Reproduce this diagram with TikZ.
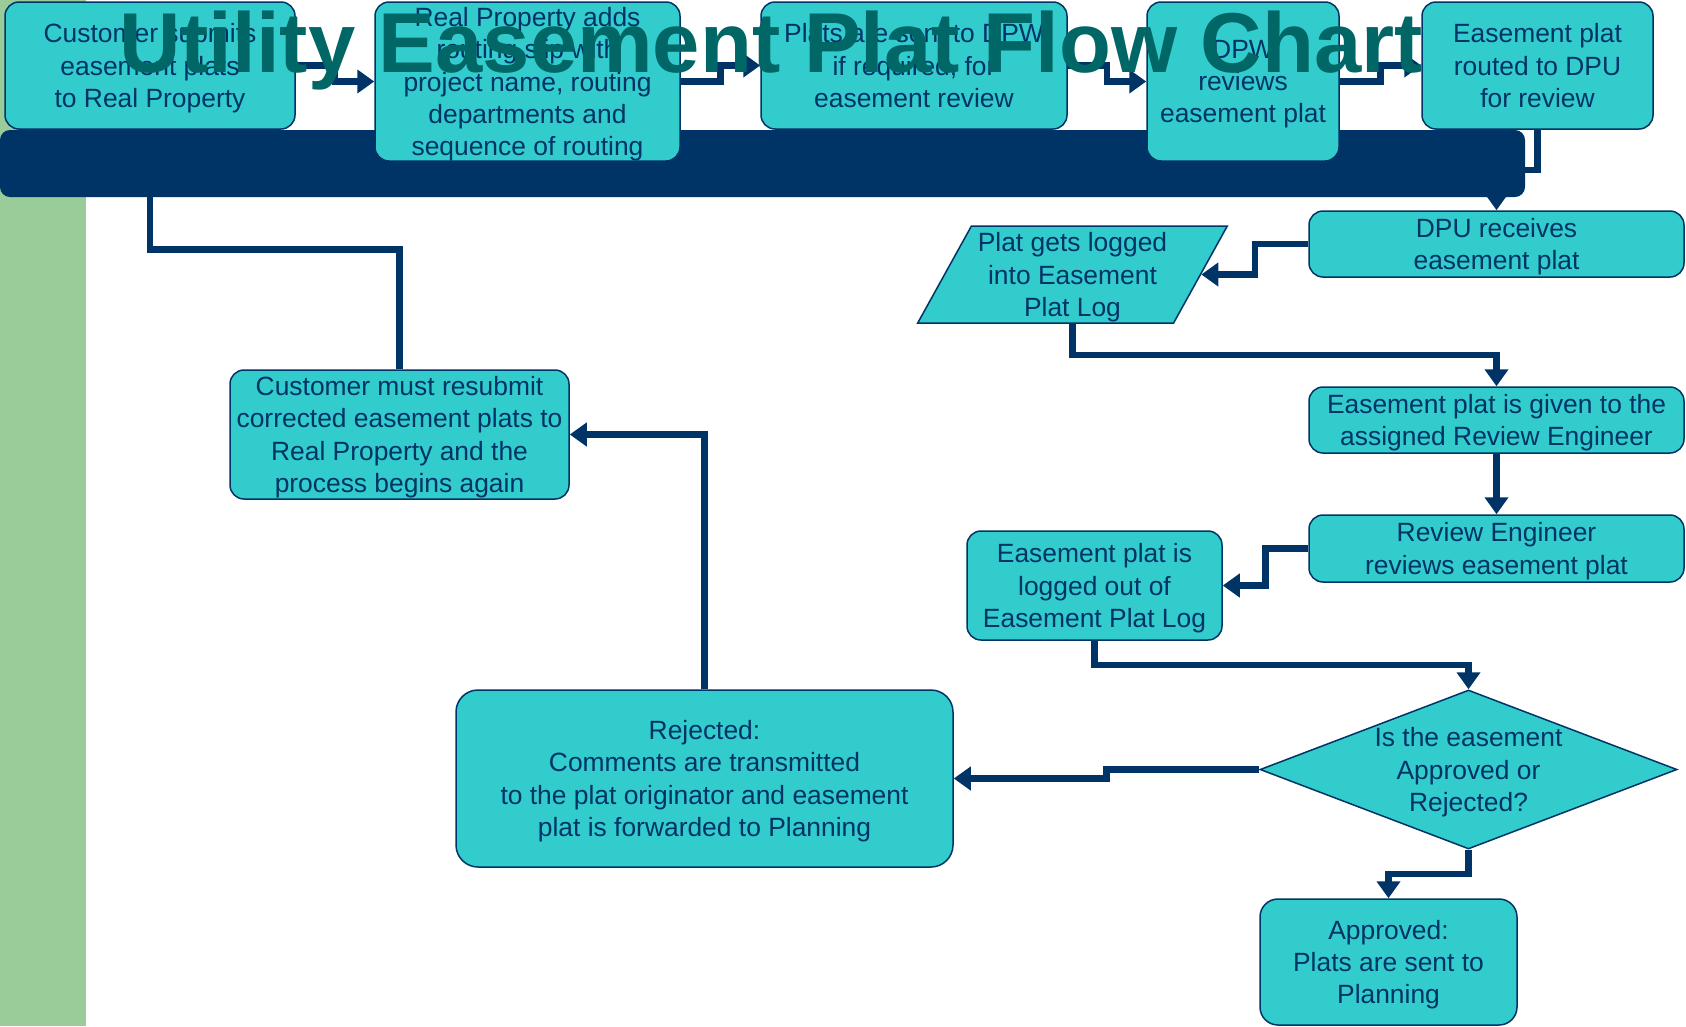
\documentclass[tikz,border=0pt]{standalone}
\usepackage{fontspec}
\setmainfont{Liberation Sans}
\usetikzlibrary{arrows.meta,calc,backgrounds,shapes.geometric}

\definecolor{navy}{RGB}{0,51,102}
\definecolor{aqua}{RGB}{51,204,204}
\definecolor{strip}{RGB}{153,204,153}
\definecolor{titleteal}{RGB}{0,102,102}

\tikzset{
  box/.style={rectangle, rounded corners=14pt, draw=navy, line width=1.5pt, fill=aqua,
    text=navy, align=center, inner sep=0pt, text depth=-1pt, font=\fontsize{26.4}{32.3}\selectfont},
  flow/.style={draw=navy, line width=6.5pt, ->},
}

\begin{document}
\begin{tikzpicture}[x=1pt, y=-1pt, >={Triangle[length=17pt,width=23pt]}]
    \useasboundingbox (0,0) rectangle (1686,1026);

    % the steps on the top row
    \node[box, minimum width=290pt, minimum height=127pt] (submit) at (150,65.5)
        {Customer submits\\easement plats\\to Real Property};
    \node[box, minimum width=305pt, minimum height=159pt] (routing) at (527.5,81.5)
        {Real Property adds\\routing slip with\\project name, routing\\departments and\\sequence of routing};
    \node[box, minimum width=306pt, minimum height=127pt] (todpw) at (914,65.5)
        {Plats are sent to DPW\\if required, for\\easement review};
    \node[box, minimum width=192pt, minimum height=159pt] (dpwrev) at (1243,81.5)
        {DPW\\reviews\\easement plat};
    \node[box, minimum width=231pt, minimum height=127pt] (todpu) at (1537.5,65.5)
        {Easement plat\\routed to DPU\\for review};

    % the steps on the right
    \node[box, minimum width=375pt, minimum height=66pt] (dpurec) at (1496.5,244)
        {DPU receives\\easement plat};
    \node[box, trapezium, sharp corners, trapezium left angle=59, trapezium right angle=121,
        trapezium stretches=true, minimum width=311pt, minimum height=97pt] (logged) at (1072.5,274.5)
        {Plat gets logged\\into Easement\\Plat Log};
    \node[box, minimum width=375pt, minimum height=66pt] (given) at (1496.5,420)
        {Easement plat is given to the\\assigned Review Engineer};
    \node[box, minimum width=375pt, minimum height=67pt] (review) at (1496.5,548.5)
        {Review Engineer\\reviews easement plat};
    \node[box, minimum width=255pt, minimum height=109pt] (loggedout) at (1094.5,585.5)
        {Easement plat is\\logged out of\\Easement Plat Log};
    \node[box, diamond, sharp corners, aspect=2.62, inner sep=-9pt,
        minimum width=417pt, minimum height=159pt] (decide) at (1468.5,769.5)
        {Is the easement\\Approved or\\Rejected?};
    \node[box, rounded corners=18pt, minimum width=257pt, minimum height=126pt] (approved) at (1388.5,962)
        {Approved:\\Plats are sent to\\Planning};

    % the way back
    \node[box, rounded corners=22pt, minimum width=497pt, minimum height=177pt] (rejected) at (704.5,778.5)
        {Rejected:\\Comments are transmitted\\to the plat originator and easement\\plat is forwarded to Planning};
    \node[box, minimum width=339pt, minimum height=129pt] (resubmit) at (399.5,434.5)
        {Customer must resubmit\\corrected easement plats to\\Real Property and the\\process begins again};

    % the title sits over the boxes
    \node[anchor=base, inner sep=0pt, text=titleteal, font=\fontsize{85}{90}\selectfont\bfseries] (title) at (771,72)
        {Utility Easement Plat Flow Chart};

    \begin{pgfonlayer}{background}
        % green strip on the left
        \fill[strip] (0,0) rectangle (86,1026);

        % draw the arrows
        \draw[flow] (submit.east) -| ($(submit.east)!.5!(routing.west)$) |- (routing.west);
        \draw[flow] (routing.east) -| ($(routing.east)!.5!(todpw.west)$) |- (todpw.west);
        \draw[flow] (todpw.east) -| ($(todpw.east)!.5!(dpwrev.west)$) |- (dpwrev.west);
        \draw[flow] (dpwrev.east) -| ($(dpwrev.east)!.5!(todpu.west)$) |- (todpu.west);
        \draw[flow] (todpu.south) |- ($(todpu.south)!.5!(dpurec.north)$) -| (dpurec.north);
        \draw[flow] (dpurec.west) -| ($(dpurec.west)!.5!(logged.east)$) |- (logged.east);
        \draw[flow] (logged.south) |- ($(logged.south)!.5!(given.north)$) -| (given.north);
        \draw[flow] (given.south) -- (review.north);
        \draw[flow] (review.west) -| ($(review.west)!.5!(loggedout.east)$) |- (loggedout.east);
        \draw[flow] (loggedout.south) |- ($(loggedout.south)!.5!(decide.north)$) -| (decide.north);
        \draw[flow] (decide.west) -| ($(decide.west)!.5!(rejected.east)$) |- (rejected.east);
        \draw[flow] (decide.south) |- ($(decide.south)!.5!(approved.north)$) -| (approved.north);
        \draw[flow] (rejected.north) |- (resubmit.east);
        \draw[flow] (resubmit.north) |- ($(resubmit.north)!.5!(submit.south)$) -| (submit.south);

        % the dark band behind the top row
        \fill[navy, rounded corners=10pt] (0,130) rectangle (1525,197);
    \end{pgfonlayer}
\end{tikzpicture}
\end{document}
